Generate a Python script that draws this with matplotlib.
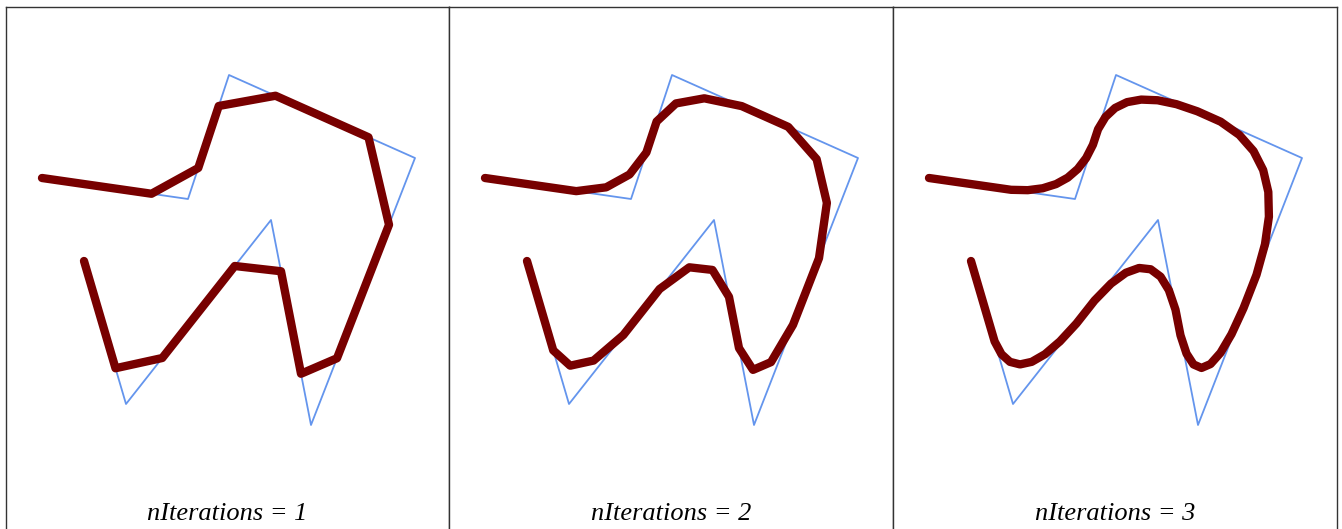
import numpy as np
import matplotlib.pyplot as plt

# control polygon (pixel-like units, y grows downward)
ctrl_x = [42, 188, 229, 415, 311, 271, 126, 84]
ctrl_y = [178, 199, 75, 158, 425, 220, 404, 261]
iterations = [1, 2, 3]


def chaikin(pts, n):
    # corner cutting, end points kept
    for _ in range(n):
        out = [pts[0]]
        for a, b in zip(pts[:-1], pts[1:]):
            out.append(0.75 * a + 0.25 * b)
            out.append(0.25 * a + 0.75 * b)
        out.append(pts[-1])
        pts = np.array(out)
    return pts


W, H = 1342, 529
fig = plt.figure(figsize=(W / 100, H / 100), dpi=100)
ctrl = np.column_stack([ctrl_x, ctrl_y]).astype(float)

edges = [6, 449, 893, 1337]
for i, n in enumerate(iterations):
    x0, x1 = edges[i], edges[i + 1]
    top, bot = 7, 545
    ax = fig.add_axes([x0 / W, 1 - bot / H, (x1 - x0) / W, (bot - top) / H])
    ax.set_xlim(6, 6 + (x1 - x0))
    ax.set_ylim(bot, top)
    ax.set_xticks([])
    ax.set_yticks([])
    for s in ax.spines.values():
        s.set_color('#333333')
        s.set_linewidth(1.0)

    ax.plot(ctrl[:, 0], ctrl[:, 1], color='#6495ED', lw=1.3, zorder=2)
    sm = chaikin(ctrl, n)
    ax.plot(sm[:, 0], sm[:, 1], color='#780000', lw=6.0,
            solid_capstyle='round', solid_joinstyle='round', zorder=3)

    ax.text(0.5, 1 - (514 - top) / (bot - top), f'nIterations = {n}',
            transform=ax.transAxes, ha='center', va='center',
            fontsize=19, family='Liberation Serif', style='italic')

fig.savefig('out.png', dpi=100)
